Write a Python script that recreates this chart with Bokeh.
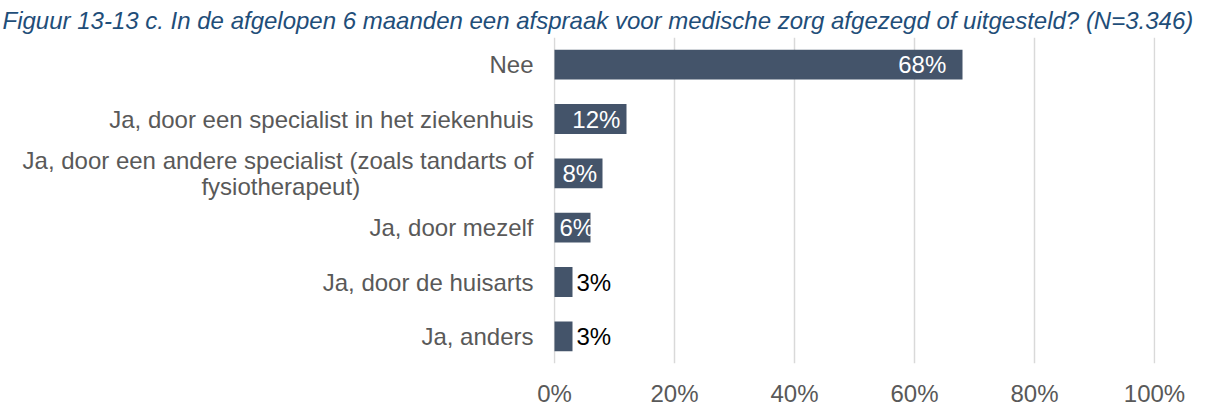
from bokeh.plotting import figure
from bokeh.models import (ColumnDataSource, FactorRange, Range1d, FixedTicker,
                          PrintfTickFormatter, LabelSet, CustomJSTickFormatter)
from bokeh.core.properties import value
from bokeh.embed import file_html
from bokeh.resources import INLINE

# ---------------- data ----------------
title_text = ("Figuur 13-13 c. In de afgelopen 6 maanden een afspraak voor medische zorg "
              "afgezegd of uitgesteld? (N=3.346)")
categories = [
    "Nee",
    "Ja, door een specialist in het ziekenhuis",
    "Ja, door een andere specialist (zoals tandarts of\nfysiotherapeut)",
    "Ja, door mezelf",
    "Ja, door de huisarts",
    "Ja, anders",
]
values = [68, 12, 8, 6, 3, 3]
x_ticks = [0, 20, 40, 60, 80, 100]

# ---------------- style / layout ----------------
FONT = "Liberation Sans"
FS = 24
BAR = "#44546A"
GRID = "#D9D9D9"
LABEL_GREY = "#595959"
X_PAD = 1 / 6.0                      # keeps the 0% and 100% gridlines inside the frame
FRAME_W, FRAME_H = 602, 326
B_LEFT, B_RIGHT, B_TOP, B_BOTTOM = 553, 47, 37, 45
PX_PER_UNIT = FRAME_W / (100 + 2 * X_PAD)

# approximate Arial/Liberation Sans advance widths (em) for value labels
CHAR_W = {d: 0.556 for d in "0123456789"}
CHAR_W["%"] = 0.889


def text_px(s):
    return sum(CHAR_W.get(c, 0.556) for c in s) * FS


p = figure(
    frame_width=FRAME_W, frame_height=FRAME_H,
    min_border_left=B_LEFT, min_border_right=B_RIGHT,
    min_border_top=B_TOP, min_border_bottom=B_BOTTOM,
    x_range=Range1d(-X_PAD, 100 + X_PAD),
    y_range=FactorRange(*list(reversed(categories))),
    output_backend="svg", toolbar_location=None, tools="",
)
p.outline_line_color = None
p.background_fill_color = "white"
p.border_fill_color = "white"

# title
p.title.text = title_text
p.title.align = "left"
p.title.offset = -(B_LEFT - 2)
p.title.standoff = 8
p.title.text_font = FONT
p.title.text_font_size = "24px"
p.title.text_font_style = "italic"
p.title.text_color = "#1F4E79"

src = ColumnDataSource(dict(cat=categories, val=values))
p.hbar(y="cat", right="val", left=0, height=0.55, source=src,
       fill_color=BAR, line_color=None)

# grid
p.ygrid.visible = False
p.xgrid.ticker = FixedTicker(ticks=x_ticks)
p.xgrid.grid_line_color = GRID
p.xgrid.grid_line_width = 1.5

# x axis
p.xaxis.ticker = FixedTicker(ticks=x_ticks)
p.xaxis.formatter = PrintfTickFormatter(format="%d%%")
p.xaxis.axis_line_color = None
p.xaxis.major_tick_line_color = None
p.xaxis.minor_tick_line_color = None
p.xaxis.major_tick_out = 0
p.xaxis.major_tick_in = 0
p.xaxis.major_label_standoff = 16
p.xaxis.major_label_text_font = FONT
p.xaxis.major_label_text_font_size = f"{FS}px"
p.xaxis.major_label_text_color = LABEL_GREY

# y axis (wrapped label: second line centred under the first)
p.yaxis.axis_line_color = None
p.yaxis.major_tick_line_color = None
p.yaxis.minor_tick_line_color = None
p.yaxis.major_tick_out = 0
p.yaxis.major_tick_in = 0
p.yaxis.major_label_standoff = 20
p.yaxis.major_label_text_font = FONT
p.yaxis.major_label_text_font_size = f"{FS}px"
p.yaxis.major_label_text_color = LABEL_GREY
p.yaxis.major_label_text_line_height = 0.95
p.yaxis.formatter = CustomJSTickFormatter(args=dict(n_pad=26), code="""
    const s = String(tick);
    const i = s.indexOf("\\n");
    if (i < 0) { return s; }
    return s.slice(0, i) + "\\n" + s.slice(i + 1) + "\\u00a0".repeat(n_pad) + "\\u200b";
""")

# value labels: inside end (white) when they fit, otherwise outside end (black)
in_x, in_y, in_t, out_x, out_y, out_t = [], [], [], [], [], []
for c, v in zip(categories, values):
    t = f"{v}%"
    w = text_px(t)
    end_px = v * PX_PER_UNIT
    if end_px >= w * 0.8:
        pad = 4 + 0.03 * end_px
        left_px = max(end_px - pad - w, 5)
        in_x.append(left_px / PX_PER_UNIT)
        in_y.append(c)
        in_t.append(t)
    else:
        out_x.append(v)
        out_y.append(c)
        out_t.append(t)

inside = LabelSet(x="x", y="y", text="t",
                  source=ColumnDataSource(dict(x=in_x, y=in_y, t=in_t)),
                  text_align="left", text_baseline="middle",
                  text_font=value(FONT), text_font_size=value(f"{FS}px"),
                  text_color="white")
outside = LabelSet(x="x", y="y", text="t", x_offset=4,
                   source=ColumnDataSource(dict(x=out_x, y=out_y, t=out_t)),
                   text_align="left", text_baseline="middle",
                   text_font=value(FONT), text_font_size=value(f"{FS}px"),
                   text_color="black")
p.add_layout(inside)
p.add_layout(outside)

open("out.html", "w").write(file_html(p, INLINE))
